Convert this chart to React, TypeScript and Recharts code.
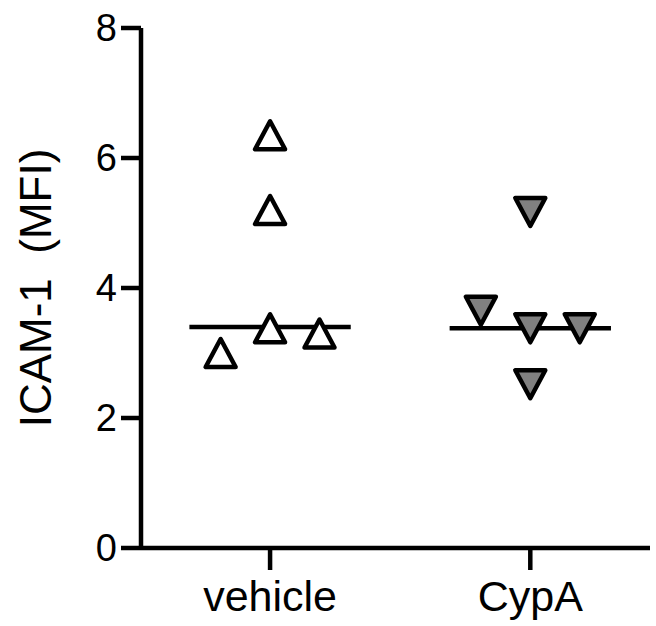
import React from 'react';
import {
  ScatterChart,
  Scatter,
  XAxis,
  YAxis,
  Label,
} from 'recharts';

// category positions on the x axis
const categories = ['vehicle', 'CypA'];
const categoryX = [1, 2];

// vehicle group (open up-triangles)
const vehicleX = [1.0, 1.0, 0.81, 1.0, 1.19];
const vehicleY = [6.35, 5.2, 3.0, 3.38, 3.3];
const vehicleMedian = 3.4;

// CypA group (grey down-triangles)
const cypaX = [2.0, 1.81, 2.0, 2.19, 2.0];
const cypaY = [5.17, 3.65, 3.38, 3.38, 2.52];
const cypaMedian = 3.38;

const yTicks = [0, 2, 4, 6, 8];
const medianHalfWidth = 0.31;

const FONT = 'Arial, "Liberation Sans", sans-serif';

const vehicleData = vehicleX.map((x, i) => ({ x, y: vehicleY[i] }));
const cypaData = cypaX.map((x, i) => ({ x, y: cypaY[i] }));
const vehicleLine = [
  { x: categoryX[0] - medianHalfWidth, y: vehicleMedian },
  { x: categoryX[0] + medianHalfWidth, y: vehicleMedian },
];
const cypaLine = [
  { x: categoryX[1] - medianHalfWidth, y: cypaMedian },
  { x: categoryX[1] + medianHalfWidth, y: cypaMedian },
];

const UpTriangle = (props: any) => {
  const { cx, cy } = props;
  const h = 14;
  return (
    <polygon
      points={`${cx},${cy - h} ${cx - h - 1},${cy + h} ${cx + h + 1},${cy + h}`}
      fill="#ffffff"
      stroke="#000000"
      strokeWidth={4.5}
      strokeLinejoin="round"
    />
  );
};

const DownTriangle = (props: any) => {
  const { cx, cy } = props;
  const h = 14;
  return (
    <polygon
      points={`${cx},${cy + h} ${cx - h - 1},${cy - h} ${cx + h + 1},${cy - h}`}
      fill="#808080"
      stroke="#000000"
      strokeWidth={4.5}
      strokeLinejoin="round"
    />
  );
};

const NoDot = () => null;

const xTickFormatter = (value: number) => {
  const idx = categoryX.indexOf(value);
  return idx >= 0 ? categories[idx] : '';
};

const YLabel = (props: any) => {
  const vb = props.viewBox || { x: 0, y: 0, width: 0, height: 0 };
  const cx = vb.x + 35;
  const cy = vb.y + vb.height / 2;
  return (
    <text
      x={cx}
      y={cy}
      transform={`rotate(-90 ${cx} ${cy})`}
      textAnchor="middle"
      dominantBaseline="central"
      fontSize={44}
      fontFamily={FONT}
      fill="#000"
      style={{ whiteSpace: 'pre' }}
    >
      {'ICAM-1\u00A0 (MFI)'}
    </text>
  );
};

export default function App() {
  return (
    <div style={{ position: 'absolute', left: 0, top: 0, background: '#fff' }}>
      <ScatterChart
        width={656}
        height={626}
        margin={{ top: 28, right: 6, bottom: 0, left: 0 }}
      >
        <XAxis
          type="number"
          dataKey="x"
          domain={[0.504, 2.46]}
          ticks={categoryX}
          tickFormatter={xTickFormatter}
          height={78}
          tickSize={22}
          tickMargin={10}
          stroke="#000"
          strokeWidth={4.5}
          tick={{ fill: '#000', fontSize: 43, fontFamily: FONT }}
          tickLine={{ stroke: '#000', strokeWidth: 4.5 }}
          allowDataOverflow
        />
        <YAxis
          type="number"
          dataKey="y"
          domain={[0, 8]}
          ticks={yTicks}
          width={141}
          tickSize={20}
          tickMargin={4}
          stroke="#000"
          strokeWidth={4.5}
          tick={{ fill: '#000', fontSize: 38, fontFamily: FONT }}
          tickLine={{ stroke: '#000', strokeWidth: 4.5 }}
        >
          <Label content={<YLabel />} />
        </YAxis>
        <Scatter
          data={vehicleLine}
          line={{ stroke: '#000', strokeWidth: 4.5 }}
          shape={NoDot}
          isAnimationActive={false}
        />
        <Scatter
          data={cypaLine}
          line={{ stroke: '#000', strokeWidth: 4.5 }}
          shape={NoDot}
          isAnimationActive={false}
        />
        <Scatter data={vehicleData} shape={UpTriangle} isAnimationActive={false} />
        <Scatter data={cypaData} shape={DownTriangle} isAnimationActive={false} />
      </ScatterChart>
    </div>
  );
}
